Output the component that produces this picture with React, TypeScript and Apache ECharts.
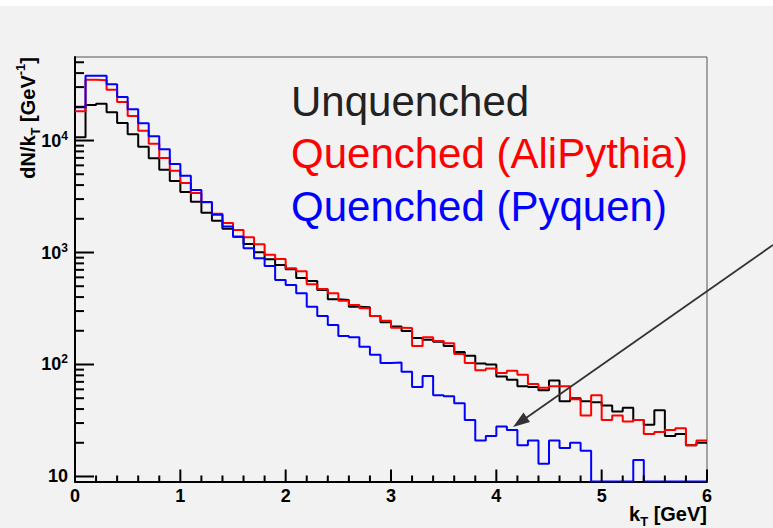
import React, { useEffect, useRef } from 'react';
import * as echarts from 'echarts';

// kT histograms: 60 bins of 0.1 GeV from 0 to 6 GeV
const KT_MAX = 6;
const BIN_WIDTH = 0.1;
const BIN_LOW_EDGES = Array.from({ length: 60 }, (_, i) => +(i * BIN_WIDTH).toFixed(1));

const UNQUENCHED = [
  10680, 20750, 21310, 17860, 14330, 11360, 8800, 6935, 5485, 4350,
  3470, 2842, 2267, 1923, 1632, 1384, 1191, 1004, 869, 773,
  708, 592, 557, 463, 382, 377, 328, 324, 271, 238,
  218, 199, 172, 166, 160, 146, 129, 120, 102, 100,
  78, 73, 64, 63, 59, 72, 47, 50, 47, 46,
  43, 38, 41, 32, 29, 39, 23, 24, 19, 20,
];

const QUENCHED_ALIPYTHIA = [
  18230, 34900, 34600, 28420, 22070, 16550, 12230, 9364, 6980, 5376,
  4174, 3399, 2806, 2220, 1834, 1588, 1367, 1184, 956, 875,
  723, 679, 520, 472, 432, 371, 340, 318, 271, 246,
  213, 212, 146, 175, 162, 155, 124, 103, 89, 92,
  84, 88, 81, 67, 62, 64, 64, 49, 35, 53,
  32, 35, 31, 32, 24, 25, 26, 27, 19, 21,
];

const QUENCHED_PYQUEN = [
  19790, 37890, 37890, 31750, 24460, 18990, 14240, 10900, 8345, 6166,
  4850, 3614, 2825, 2175, 1706, 1384, 1090, 888, 758, 568,
  513, 432, 328, 271, 225, 180, 175, 144, 122, 103,
  104, 86, 63, 79, 53, 52, 45, 32, 21, 23,
  28, 26, 19, 21, 13, 21, 18, 20, 17, 0,
  0, 0, 0, 14, 0, 0, 0, 0, 0, 0,
];

const SERIES_NAMES = ['Unquenched', 'Quenched (AliPythia)', 'Quenched (Pyquen)'];

// axis range
const Y_MIN = 9.02;
const Y_MAX = 55700;
const X_MIN = 0;

const FONT = '"Liberation Sans", Arial, Helvetica, sans-serif';

// empty bins sit on the axis floor, like a ROOT histogram
function histPoints(values: number[]) {
  const pts: number[][] = values.map((v, i) => [BIN_LOW_EDGES[i], v > 0 ? v : Y_MIN]);
  const last = values[values.length - 1];
  pts.push([KT_MAX, last > 0 ? last : Y_MIN]);
  return pts;
}

// inward ticks in the ROOT style
function yTickData() {
  const out: number[][] = [];
  for (let k = 1; k <= 4; k++) {
    for (let m = 1; m <= 9; m++) {
      const v = m * Math.pow(10, k);
      if (v >= Y_MIN && v <= Y_MAX) out.push([X_MIN, v, m === 1 ? 19 : 9]);
    }
  }
  return out;
}
function xTickData() {
  const out: number[][] = [];
  for (let i = 0; i <= 30; i++) out.push([+(i * 0.2).toFixed(1), Y_MIN, i % 5 === 0 ? 12 : 6]);
  return out;
}

const titleRich = {
  b: { fontSize: 20, fontWeight: 'bold', fontFamily: FONT, color: '#000', lineHeight: 28 },
  sub: { fontSize: 13, fontWeight: 'bold', fontFamily: FONT, color: '#000', verticalAlign: 'bottom' },
  sup: { fontSize: 13, fontWeight: 'bold', fontFamily: FONT, color: '#000', verticalAlign: 'top' },
};

export default function App() {
  const ref = useRef<HTMLDivElement>(null);

  useEffect(() => {
    if (!ref.current) return;
    const chart = echarts.init(ref.current, undefined, { renderer: 'svg' });

    const lineSeries = (name: string, values: number[], color: string, z: number) => ({
      name,
      type: 'line',
      step: 'end',
      data: histPoints(values),
      showSymbol: false,
      symbol: 'none',
      z,
      lineStyle: { color, width: 2 },
      itemStyle: { color },
      silent: true,
    });

    chart.setOption({
      animation: false,
      backgroundColor: '#f2f2f2',
      grid: {
        left: 75,
        right: 66,
        top: 57,
        bottom: 46.5,
        show: true,
        borderColor: '#555',
        borderWidth: 1,
        backgroundColor: 'transparent',
      },
      legend: {
        left: 281,
        top: 74,
        orient: 'vertical',
        icon: 'none',
        itemWidth: 0,
        itemGap: 8.5,
        selectedMode: false,
        textStyle: { fontSize: 42, fontFamily: FONT, lineHeight: 44 },
        data: [
          { name: SERIES_NAMES[0], textStyle: { color: '#222' } },
          { name: SERIES_NAMES[1], textStyle: { color: '#ff0000' } },
          { name: SERIES_NAMES[2], textStyle: { color: '#0000ff' } },
        ],
      },
      xAxis: {
        type: 'value',
        min: 0,
        max: KT_MAX,
        interval: 1,
        axisLine: { show: true, onZero: false, lineStyle: { color: '#000', width: 2 } },
        axisTick: { show: false },
        splitLine: { show: false },
        axisLabel: {
          fontSize: 18,
          fontWeight: 'bold',
          fontFamily: FONT,
          color: '#000',
          margin: 5,
          showMinLabel: true,
          showMaxLabel: true,
        },
      },
      yAxis: {
        type: 'log',
        logBase: 10,
        min: Y_MIN,
        max: Y_MAX,
        axisLine: { show: true, lineStyle: { color: '#000', width: 2 } },
        axisTick: { show: false },
        splitLine: { show: false },
        minorTick: { show: false },
        axisLabel: {
          margin: 7,
          formatter: (v: number) => {
            const l = Math.log10(v);
            const e = Math.round(l);
            if (Math.abs(l - e) > 1e-6) return '';
            return e === 1 ? '{n|10}' : `{n|10}{s|${e}}`;
          },
          rich: {
            n: { fontSize: 18, fontWeight: 'bold', fontFamily: FONT, color: '#000', lineHeight: 22 },
            s: { fontSize: 12, fontWeight: 'bold', fontFamily: FONT, color: '#000', verticalAlign: 'top' },
          },
        },
      },
      series: [
        lineSeries(SERIES_NAMES[0], UNQUENCHED, '#000000', 3),
        lineSeries(SERIES_NAMES[1], QUENCHED_ALIPYTHIA, '#ff0000', 4),
        lineSeries(SERIES_NAMES[2], QUENCHED_PYQUEN, '#0000ff', 5),
        {
          type: 'custom',
          silent: true,
          z: 6,
          data: yTickData(),
          renderItem: (_p: any, api: any) => {
            const pt = api.coord([api.value(0), api.value(1)]);
            const len = api.value(2);
            return {
              type: 'line',
              shape: { x1: pt[0], y1: pt[1], x2: pt[0] + len, y2: pt[1] },
              style: { stroke: '#000', lineWidth: 2 },
            };
          },
        },
        {
          type: 'custom',
          silent: true,
          z: 6,
          data: xTickData(),
          renderItem: (_p: any, api: any) => {
            const pt = api.coord([api.value(0), api.value(1)]);
            const len = api.value(2);
            return {
              type: 'line',
              shape: { x1: pt[0], y1: pt[1], x2: pt[0], y2: pt[1] - len },
              style: { stroke: '#000', lineWidth: 2 },
            };
          },
        },
      ],
      graphic: [
        {
          type: 'rect',
          left: 0,
          top: 0,
          shape: { width: 773, height: 6 },
          style: { fill: '#ffffff' },
          silent: true,
        },
        {
          type: 'text',
          x: 28,
          y: 57,
          rotation: Math.PI / 2,
          style: {
            text: '{b|dN/k}{sub|T}{b| [GeV}{sup|-1}{b|]}',
            rich: titleRich,
            align: 'right',
            textAlign: 'right',
            verticalAlign: 'middle',
            textVerticalAlign: 'middle',
          },
          silent: true,
        },
        {
          type: 'text',
          x: 707,
          y: 514,
          style: {
            text: '{b|k}{sub|T}{b| [GeV]}',
            rich: titleRich,
            align: 'right',
            textAlign: 'right',
            verticalAlign: 'middle',
            textVerticalAlign: 'middle',
          },
          silent: true,
        },
        {
          type: 'line',
          shape: { x1: 773, y1: 245, x2: 526, y2: 418 },
          style: { stroke: '#333', lineWidth: 1.8 },
          silent: true,
          z: 10,
        },
        {
          type: 'polygon',
          shape: { points: [[513, 427], [530, 422], [523.5, 412.5]] },
          style: { fill: '#333' },
          silent: true,
          z: 10,
        },
      ],
    });

    return () => chart.dispose();
  }, []);

  return (
    <div
      ref={ref}
      style={{ position: 'absolute', left: 0, top: 0, width: 773, height: 528, background: '#f2f2f2' }}
    />
  );
}
